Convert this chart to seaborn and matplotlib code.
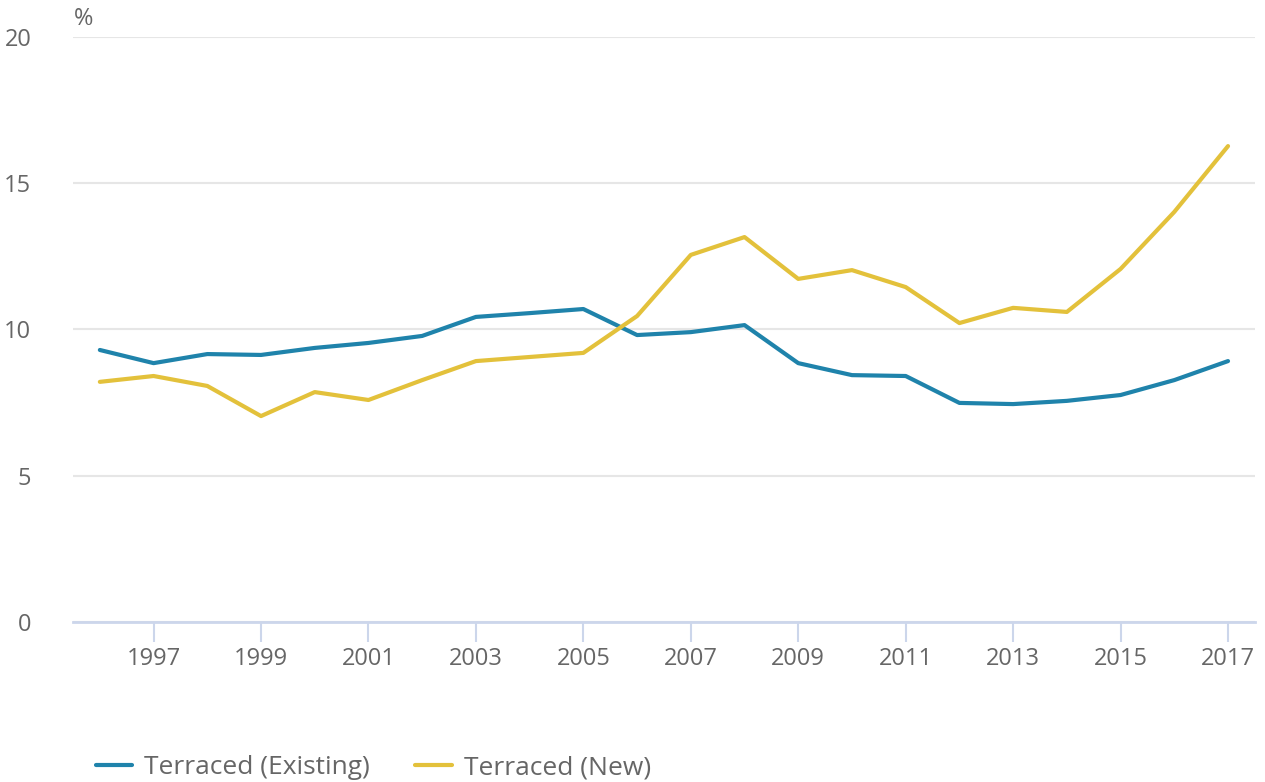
import pandas as pd
import matplotlib.pyplot as plt
import seaborn as sns

# values
years = list(range(1996, 2018))
existing = [9.30, 8.85, 9.16, 9.13, 9.37, 9.54, 9.78, 10.43, 10.56, 10.70, 9.81,
            9.91, 10.15, 8.85, 8.44, 8.41, 7.49, 7.45, 7.56, 7.76, 8.27, 8.92]
new = [8.21, 8.41, 8.07, 7.04, 7.86, 7.59, 8.27, 8.92, 9.06, 9.20, 10.46,
       12.55, 13.16, 11.73, 12.03, 11.45, 10.22, 10.74, 10.60, 12.07, 14.02, 16.27]
series_names = ["Terraced (Existing)", "Terraced (New)"]
tick_years = list(range(1997, 2018, 2))
y_ticks = [0, 5, 10, 15, 20]

df = pd.DataFrame({
    "year": years * 2,
    "value": existing + new,
    "series": [series_names[0]] * len(years) + [series_names[1]] * len(years),
})

sns.set_style("white")
plt.rcParams["font.family"] = ["Open Sans", "DejaVu Sans"]
text_color = "#666666"

fig = plt.figure(figsize=(12.65, 7.82), dpi=100)
ax = fig.add_axes([0.0577, 0.2046, 0.9343, 0.7481])

sns.lineplot(
    data=df, x="year", y="value", hue="series",
    palette={series_names[0]: "#1f83ab", series_names[1]: "#e3c13b"},
    linewidth=3, ax=ax,
)

ax.set_xlim(1995.5, 2017.5)
ax.set_ylim(0, 20)
ax.set_xticks(tick_years)
ax.set_xticklabels([str(y) for y in tick_years])
ax.set_yticks(y_ticks)
ax.set_xlabel("")
ax.set_ylabel("")

# grid and spines
ax.yaxis.grid(True, color="#e6e6e6", linewidth=1.5)
ax.set_axisbelow(True)
for side in ["top", "right", "left"]:
    ax.spines[side].set_visible(False)
ax.spines["bottom"].set_color("#ccd6eb")
ax.spines["bottom"].set_linewidth(2)

ax.tick_params(axis="x", bottom=True, direction="out", length=14.5, width=1.5,
               color="#ccd6eb", labelsize=17, labelcolor=text_color, pad=3.5)
ax.tick_params(axis="y", left=False, length=0, labelsize=17,
               labelcolor=text_color, pad=30)

ax.text(0.001, 1.01, "%", transform=ax.transAxes, fontsize=17,
        color=text_color, ha="left", va="bottom")

ax.legend_.remove()
handles, labels = ax.get_legend_handles_labels()
fig.legend(handles, labels, loc="center left", bbox_to_anchor=(0.0755, 0.018),
           ncol=2, frameon=False, fontsize=19, handlelength=1.4,
           borderpad=0, borderaxespad=0,
           columnspacing=1.7, handletextpad=0.45, labelcolor=text_color)

fig.savefig("out.png", dpi=100)
